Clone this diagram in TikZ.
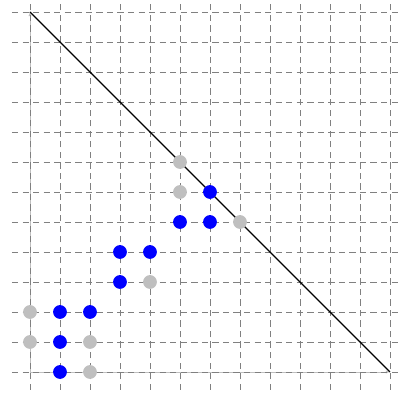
\documentclass[tikz,border=0pt]{standalone}
\usepackage{amsmath,amssymb}
\usepackage{tikz}

\begin{document}
\begin{tikzpicture}[
        x=1cm,y=1cm,
        dot/.style={circle,fill=#1,minimum size=4.6mm,inner sep=0pt},
        >=latex
    ]
        \useasboundingbox (-1,-0.733) rectangle (12.367,12.4);

        \coordinate (o) at (0,0);
        \coordinate (xe) at (12,0);
        \coordinate (ye) at (0,12);
        \draw[lightgray,->] (o) -- (xe);
        \draw[lightgray,->] (o) -- (ye);
        \draw[gray,dash pattern=on 6pt off 4pt] (-0.6,-0.6) grid (12.6,12.6);
        \draw[line width=1.1pt] (ye) -- (xe);

        \node[dot=lightgray] (g1) at (0,2) {};
        \node[dot=lightgray] (g2) at (0,1) {};
        \node[dot=lightgray] (g3) at (2,1) {};
        \node[dot=lightgray] (g4) at (2,0) {};
        \node[dot=lightgray] (g5) at (4,3) {};
        \node[dot=lightgray] (g6) at (5,7) {};
        \node[dot=lightgray] (g7) at (5,6) {};
        \node[dot=lightgray] (g8) at (7,5) {};

        \node[dot=blue] (b1) at (1,2) {};
        \node[dot=blue] (b2) at (2,2) {};
        \node[dot=blue] (b3) at (1,1) {};
        \node[dot=blue] (b4) at (1,0) {};
        \node[dot=blue] (b5) at (3,4) {};
        \node[dot=blue] (b6) at (4,4) {};
        \node[dot=blue] (b7) at (3,3) {};
        \node[dot=blue] (b8) at (6,6) {};
        \node[dot=blue] (b9) at (5,5) {};
        \node[dot=blue] (b10) at (6,5) {};
    \end{tikzpicture}
\end{document}
